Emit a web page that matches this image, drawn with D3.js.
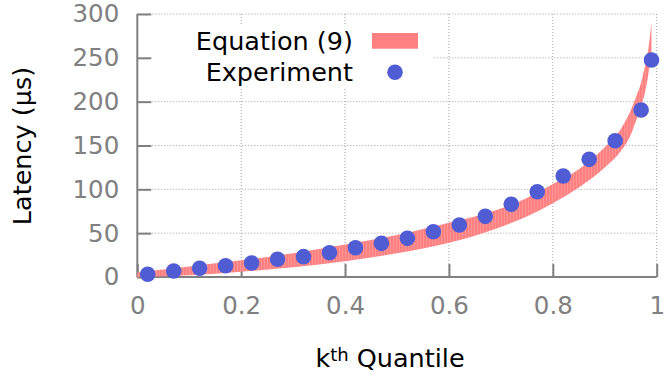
<!DOCTYPE html>
<html lang="en">
<head>
<meta charset="utf-8">
<title>Latency vs kth quantile</title>
<style type="text/css">
body { margin: 0; background: #fff; }
svg { display: block; font-family: "DejaVu Sans", sans-serif; }
.axis path, .axis line { stroke: #808080; stroke-width: 2; }
.axis text { fill: #808080; font-size: 24.5px; font-family: "DejaVu Sans", sans-serif; }
.grid line { stroke: #a0a0a0; stroke-width: 1; stroke-dasharray: 1,2; }
.label { fill: #000; font-size: 25.5px; }
</style>
<script src="https://cdn.jsdelivr.net/npm/d3@7"></script>
</head>
<body>
<script type="text/javascript">
// experiment points
var quantiles = [0.02, 0.07, 0.12, 0.17, 0.22, 0.27, 0.32, 0.37, 0.42, 0.47, 0.52,
                 0.57, 0.62, 0.67, 0.72, 0.77, 0.82, 0.87, 0.92, 0.97, 0.99];
var latency = [3.1, 6.8, 9.9, 12.9, 16.0, 20.2, 23.2, 27.7, 33.4, 38.4, 44.1,
               51.7, 59.3, 69.2, 82.9, 97.3, 115.2, 134.2, 155.5, 190.5, 247.5];

// equation (9) band
var eqK    = [0, 0.1, 0.2, 0.3, 0.4, 0.5, 0.6, 0.65, 0.7, 0.75, 0.8, 0.85, 0.9, 0.93, 0.95, 0.96, 0.97, 0.98, 0.985, 0.99];
var eqHigh = [5, 12, 19, 27, 37, 48, 62, 69, 78, 90, 106, 123, 148, 168, 190, 205, 222, 248, 265, 291];
var eqLow  = [0, 2, 6, 11, 18, 27, 39, 47, 57, 69, 84, 102, 125, 143, 162, 178, 194, 218, 235, 252];

var xTicks = [0, 0.2, 0.4, 0.6, 0.8, 1];
var xTickLabels = ["0", "0.2", "0.4", "0.6", "0.8", "1"];
var yTicks = [0, 50, 100, 150, 200, 250, 300];

var w = 666, h = 375;
var plotL = 137.3, plotR = 656.7, plotT = 14, plotB = 277;

var svg = d3.select("body")
            .append("svg")
            .attr("width", w)
            .attr("height", h);

svg.append("rect").attr("width", w).attr("height", h).attr("fill", "#fff");

var x = d3.scaleLinear().domain([0, 1]).range([plotL, plotR]);
var y = d3.scaleLinear().domain([0, 300]).range([plotB, plotT]);

// stripes like the gnuplot fill
var pat = svg.append("defs").append("pattern")
             .attr("id", "stripes")
             .attr("patternUnits", "userSpaceOnUse")
             .attr("width", 3)
             .attr("height", 10);
pat.append("rect").attr("width", 3).attr("height", 10).attr("fill", "#ff8080");
pat.append("line").attr("x1", 0.5).attr("x2", 0.5).attr("y1", 0).attr("y2", 10)
   .attr("stroke", "#fff").attr("stroke-opacity", 0.25).attr("stroke-width", 0.7);

// grid
var grid = svg.append("g").attr("class", "grid");
grid.selectAll(".gy")
    .data(yTicks.slice(1))
    .enter().append("line")
    .attr("x1", plotL).attr("x2", plotR)
    .attr("y1", function(d){ return y(d); })
    .attr("y2", function(d){ return y(d); });
grid.selectAll(".gx")
    .data(xTicks.slice(1))
    .enter().append("line")
    .attr("y1", plotT).attr("y2", plotB)
    .attr("x1", function(d){ return x(d); })
    .attr("x2", function(d){ return x(d); });

// key background hides the grid behind it
svg.append("rect")
   .attr("x", 152).attr("y", 26)
   .attr("width", 281).attr("height", 62)
   .attr("fill", "#fff");

// axes
svg.append("g")
   .attr("class", "axis")
   .attr("transform", "translate(" + plotL + ",0)")
   .call(d3.axisLeft(y).tickValues(yTicks).tickSize(-14).tickPadding(18))
   .call(function(g){ g.select(".domain").attr("d", "M0," + plotB + "V" + plotT); });

svg.append("g")
   .attr("class", "axis")
   .attr("transform", "translate(0," + plotB + ")")
   .call(d3.axisBottom(x).tickValues(xTicks)
           .tickFormat(function(d, i){ return xTickLabels[i]; })
           .tickSize(-13).tickPadding(20))
   .call(function(g){ g.select(".domain").attr("d", "M" + plotL + ",0H" + plotR); });

// band
var band = eqK.map(function(k, i){ return {k: k, lo: eqLow[i], hi: eqHigh[i]}; });
var area = d3.area()
             .x(function(d){ return x(d.k); })
             .y0(function(d){ return y(d.lo); })
             .y1(function(d){ return y(d.hi); })
             .curve(d3.curveMonotoneX);
svg.append("path")
   .datum(band)
   .attr("d", area)
   .attr("fill", "url(#stripes)");

// points
svg.selectAll("circle.pt")
   .data(quantiles)
   .enter().append("circle")
   .attr("class", "pt")
   .attr("cx", function(d){ return x(d); })
   .attr("cy", function(d, i){ return y(latency[i]); })
   .attr("r", 7.8)
   .attr("fill", "#505cd4");

// key
svg.append("text").attr("class", "label")
   .attr("x", 353).attr("y", 49.5)
   .attr("text-anchor", "end")
   .text("Equation (9)");
svg.append("rect")
   .attr("x", 372).attr("y", 33)
   .attr("width", 46).attr("height", 15.7)
   .attr("fill", "#ff8080");
svg.append("text").attr("class", "label")
   .attr("x", 353).attr("y", 81)
   .attr("text-anchor", "end")
   .text("Experiment");
svg.append("circle")
   .attr("cx", 395).attr("cy", 72.3).attr("r", 7.8)
   .attr("fill", "#505cd4");

// axis titles
svg.append("text").attr("class", "label")
   .attr("transform", "translate(31,146) rotate(-90)")
   .attr("text-anchor", "middle")
   .text("Latency (\u00b5s)");

var xt = svg.append("text").attr("class", "label")
            .attr("x", 390).attr("y", 367)
            .attr("text-anchor", "middle");
xt.append("tspan").text("k");
xt.append("tspan").attr("dy", -6).style("font-size", "18px").text("th");
xt.append("tspan").attr("dy", 6).text(" Quantile");
</script>
</body>
</html>
